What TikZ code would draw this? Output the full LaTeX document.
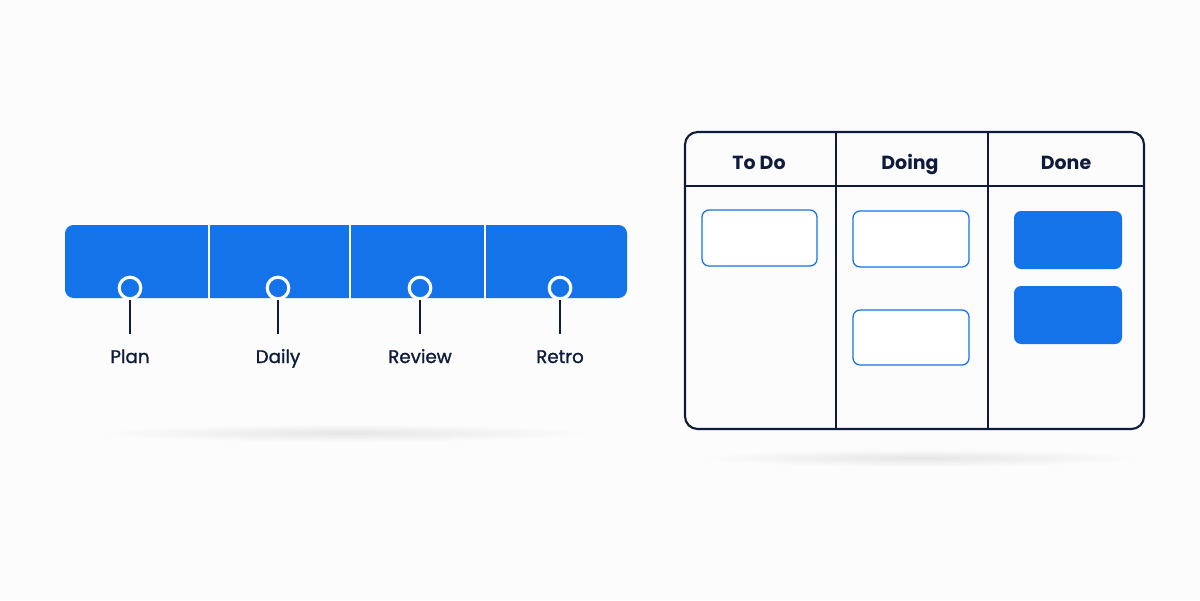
\documentclass[tikz,border=0pt]{standalone}
\usepackage{fontspec}
\setmainfont{Poppins}
\newfontfamily\labelfont{Poppins}[FakeBold=1.2]
\usepackage{tikz}

\definecolor{ablue}{HTML}{1473E9}
\definecolor{anavy}{HTML}{0F1B3D}

\tikzset{
    pin/.style={circle, draw=white, line width=2.2pt, fill=ablue, minimum size=0.54cm, inner sep=0pt},
    stem/.style={anavy, line width=1.8pt},
    steplabel/.style={anchor=base, font=\labelfont\fontsize{13}{15}\selectfont, text=anavy},
    colhead/.style={anchor=base, font=\bfseries\fontsize{13.5}{16}\selectfont, text=anavy},
    opencard/.style={draw=ablue, line width=0.9pt, fill=white, rounded corners=5pt},
    donecard/.style={fill=ablue, rounded corners=5pt}
}

\begin{document}
\begin{tikzpicture}[x=0.025cm, y=-0.025cm]
        \useasboundingbox[fill=white!99!black] (0, 0) rectangle (1200, 600);

        % shadows
        \shade[inner color=black!10, outer color=white!99!black] (345, 433) ellipse (250 and 9);
        \shade[inner color=black!10, outer color=white!99!black] (920, 458) ellipse (225 and 9);

        % timeline bar
        \fill[ablue, rounded corners=6pt] (65, 225) rectangle (627, 298);
        \draw[white, line width=1.4pt] (209, 224) -- (209, 299);
        \draw[white, line width=1.4pt] (350, 224) -- (350, 299);
        \draw[white, line width=1.4pt] (485, 224) -- (485, 299);

        \coordinate (end1) at (130, 334);
        \coordinate (end2) at (278, 334);
        \coordinate (end3) at (420, 334);
        \coordinate (end4) at (560, 334);
        \node[pin] (pin1) at (130, 288) {};
        \node[pin] (pin2) at (278, 288) {};
        \node[pin] (pin3) at (420, 288) {};
        \node[pin] (pin4) at (560, 288) {};
        \draw[stem] (pin1.south) -- (end1);
        \draw[stem] (pin2.south) -- (end2);
        \draw[stem] (pin3.south) -- (end3);
        \draw[stem] (pin4.south) -- (end4);
        \node[steplabel] (plan) at (130, 363) {Plan};
        \node[steplabel] (daily) at (278, 363) {Daily};
        \node[steplabel] (review) at (420, 363) {Review};
        \node[steplabel] (retro) at (560, 363) {Retro};

        % board
        \draw[anavy, line width=1.5pt, rounded corners=9pt] (685, 132) rectangle (1144, 429);
        \draw[anavy, line width=1.5pt] (685, 186) -- (1144, 186);
        \draw[anavy, line width=1.5pt] (836, 132) -- (836, 429);
        \draw[anavy, line width=1.5pt] (988, 132) -- (988, 429);
        \node[colhead] (todo) at (759, 169) {To Do};
        \node[colhead] (doing) at (910, 169) {Doing};
        \node[colhead] (done) at (1066, 169) {Done};

        \draw[opencard] (702, 210) rectangle (817, 266);
        \draw[opencard] (853, 211) rectangle (969, 267);
        \draw[opencard] (853, 310) rectangle (969, 365);
        \fill[donecard] (1014, 211) rectangle (1122, 269);
        \fill[donecard] (1014, 286) rectangle (1122, 344);
    \end{tikzpicture}
\end{document}
